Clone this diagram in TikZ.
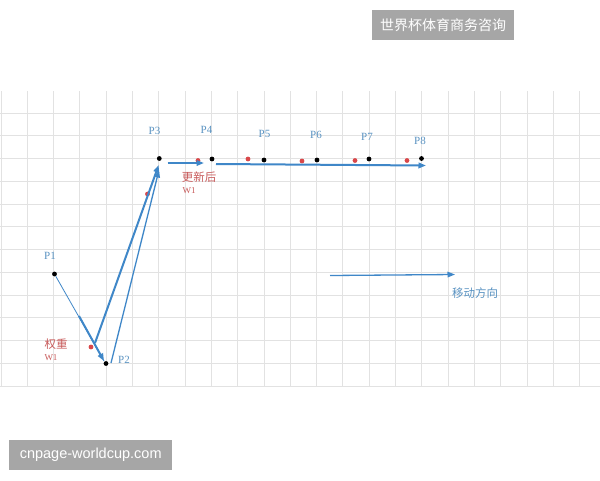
\documentclass[tikz,border=0pt]{standalone}
\usepackage{fontspec}
\setmainfont{Liberation Serif}
\newfontfamily\cjk{Noto Sans CJK SC}
\newfontfamily\wmfont{Liberation Sans}
\usetikzlibrary{arrows.meta}
\definecolor{gridc}{HTML}{E2E2E2}
\definecolor{arrc}{HTML}{3F87C8}
\definecolor{lblc}{HTML}{5A93C2}
\definecolor{redc}{HTML}{D9474A}
\definecolor{redl}{HTML}{C85A5A}
\definecolor{wmgray}{HTML}{A6A6A6}
\tikzset{
  dot/.style={circle,fill=black,inner sep=0pt,minimum size=4.8pt},
  rdot/.style={circle,fill=redc,inner sep=0pt,minimum size=4.8pt},
  plabel/.style={text=lblc,font=\fontsize{11}{13}\selectfont,inner sep=0pt},
  wlabel/.style={text=redl,font=\cjk\fontsize{11.5}{13}\selectfont,inner sep=0pt},
  wsub/.style={text=redl,font=\fontsize{9}{10}\selectfont,inner sep=0pt},
  thickarr/.style={draw=arrc,line width=2pt,-{Triangle[length=7.5pt,width=5.5pt]}},
  thinline/.style={draw=arrc,line width=0.8pt},
  midarr/.style={draw=arrc,line width=1.3pt,-{Triangle[length=7.5pt,width=5.5pt]}},
  wmbox/.style={fill=wmgray,text=white,inner sep=0pt,anchor=north west},
}
\begin{document}
\begin{tikzpicture}[x=1pt,y=-1pt]
\useasboundingbox (0,0) rectangle (600,480);
\fill[white] (0,0) rectangle (600,480);
% grid
\foreach \k in {0,...,12} {
  \draw[gridc,line width=0.9pt] (0,{113+22.75*\k}) -- (600,{113+22.75*\k});
}
\foreach \k in {0,...,22} {
  \draw[gridc,line width=0.9pt] ({1+26.3*\k},91) -- ({1+26.3*\k},387);
}
% points
\node[dot] (p1) at (54.5,274) {};
\node[dot] (p2) at (106,363.5) {};
\node[dot] (p3) at (159.3,158.5) {};
\node[dot] (p4) at (212,159) {};
\node[dot] (p5) at (264,160) {};
\node[dot] (p6) at (317,160) {};
\node[dot] (p7) at (369,159) {};
\node[dot] (p8) at (421.5,158.5) {};
% red dots
\node[rdot] (r1) at (91,347) {};
\node[rdot] (r2) at (147.5,194) {};
\node[rdot] (r3) at (198,160.5) {};
\node[rdot] (r4) at (248,159) {};
\node[rdot] (r5) at (302,161) {};
\node[rdot] (r6) at (355,160.5) {};
\node[rdot] (r7) at (407,160.5) {};
% labels
\node[plabel] (l1) at (50,256) {P1};
\node[plabel] (l2) at (124,360) {P2};
\node[plabel] (l3) at (154.5,130.5) {P3};
\node[plabel] (l4) at (206.5,130) {P4};
\node[plabel] (l5) at (264.5,134) {P5};
\node[plabel] (l6) at (316,135) {P6};
\node[plabel] (l7) at (367,137) {P7};
\node[plabel] (l8) at (420,141) {P8};
\node[wlabel] (w1a) at (56,344) {权重};
\node[wsub] (w1b) at (51,358) {W1};
\node[wlabel] (w2a) at (199,177) {更新后};
\node[wsub] (w2b) at (189,191) {W1};
% coordinates for arrow ends
\coordinate (a1) at (79,316);
\coordinate (a2) at (104,361);
\coordinate (b1) at (95,343);
\coordinate (b2) at (158.7,165);
\coordinate (c1) at (111,363);
\coordinate (c2) at (159,170);
\coordinate (d1) at (167.5,163);
\coordinate (d2) at (204,163);
\coordinate (e1) at (216,164);
\coordinate (e2) at (426,165.5);
\coordinate (m1) at (330,275.5);
\coordinate (m2) at (455,274.5);
% connectors
\draw[thinline] (p1) -- (a2);
\draw[thickarr] (a1) -- (a2);
\draw[thickarr] (b1) -- (b2);
\draw[midarr] (c1) -- (c2);
\draw[thickarr] (d1) -- (d2);
\draw[thickarr] (e1) -- (e2);
\draw[midarr] (m1) -- (m2);
\node[text=lblc,font=\cjk\fontsize{11.5}{13}\selectfont,inner sep=0pt] (mv) at (475,293) {移动方向};
% watermarks
\node[wmbox,minimum width=142pt,minimum height=30pt] (wm1) at (372,10) {};
\node[text=white,font=\cjk\fontsize{14}{16}\selectfont,inner sep=0pt] (wm1t) at (wm1.center) {世界杯体育商务咨询};
\node[wmbox,minimum width=163pt,minimum height=30pt] (wm2) at (9,440) {};
\node[text=white,font=\wmfont\fontsize{14.5}{16}\selectfont,inner sep=0pt] (wm2t) at (wm2.center) {cnpage-worldcup.com};
\end{tikzpicture}
\end{document}
